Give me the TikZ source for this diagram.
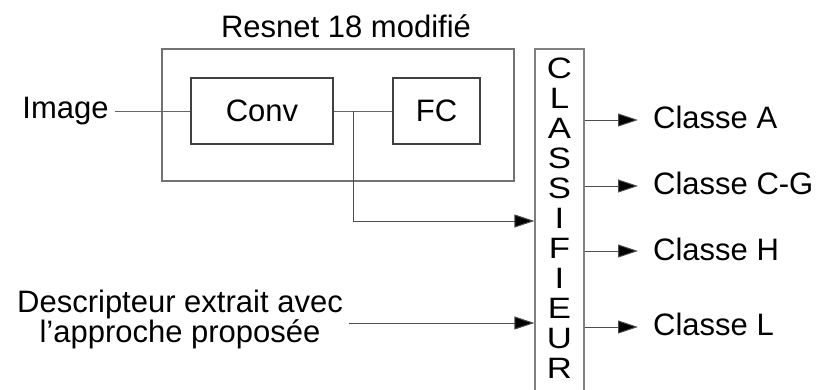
\documentclass[tikz,border=0pt]{standalone}
\usepackage{fontspec}
\setmainfont{Liberation Sans}
\usetikzlibrary{arrows.meta,positioning,calc}
\tikzset{
  netbox/.style={rectangle, draw=black!55, line width=1.1pt, inner sep=0pt},
  layerbox/.style={rectangle, draw=black!75, line width=1.1pt, inner sep=0pt, minimum height=66pt},
  plaintext/.style={inner sep=0pt},
  letter/.style={inner sep=0pt, anchor=base},
  outlabel/.style={inner sep=0pt, anchor=base west},
  link/.style={draw=black!60, line width=1pt},
  flowarrow/.style={draw=black!70, line width=1pt, -{Triangle[length=20pt, width=13pt, fill=black]}}
}
\begin{document}
\begin{tikzpicture}[x=1pt, y=-1pt, font=\fontsize{31}{25}\selectfont]
\useasboundingbox (0,0) rectangle (819,389);
% reseau
\node[netbox, minimum width=352pt, minimum height=132pt] (resnet) at (338,115) {};
\node[plaintext, anchor=base] (title) at (346,37) {Resnet 18 modifié};
\node[layerbox, minimum width=142pt] (conv) at (262,111) {Conv};
\node[layerbox, minimum width=87pt] (fc) at (436.5,111) {FC};
% classifieur
\node[netbox, draw=black!50, minimum width=49pt, minimum height=351pt] (clf) at (559.5,224.5) {};
\foreach \ltr [count=\i from 0] in {C,L,A,S,S,I,F,I,E,U,R}
  \node[letter] (clf-\i) at (559.5,78+30*\i) {\scalebox{1.12}[0.95]{\ltr}};
% entrees
\node[plaintext, anchor=base] (img) at (65.5,118) {Image};
\node[plaintext, align=center] (desc) at (180,319.5) {Descripteur extrait avec\\l’approche proposée};
% sorties
\node[outlabel] (clsA) at (653,128) {Classe A};
\node[outlabel] (clsCG) at (653,194) {Classe C-G};
\node[outlabel] (clsH) at (653,260) {Classe H};
\node[outlabel] (clsL) at (653,335) {Classe L};
\coordinate (branch) at (353,111);
\coordinate (imgout) at ($(img.east |- conv.west)+(6,0)$);
\coordinate (descout) at ($(desc.east |- 0,323)+(6,0)$);
\draw[link] (imgout) -- (conv.west);
\draw[link] (conv) -- (fc);
\draw[flowarrow] (branch) |- (clf.west |- 0,221);
\draw[flowarrow] (descout) -- (clf.west |- descout);
\draw[flowarrow, shorten >=15pt] (clf.east |- 0,120) -- (clsA.west |- 0,120);
\draw[flowarrow, shorten >=15pt] (clf.east |- 0,186) -- (clsCG.west |- 0,186);
\draw[flowarrow, shorten >=15pt] (clf.east |- 0,251) -- (clsH.west |- 0,251);
\draw[flowarrow, shorten >=15pt] (clf.east |- 0,327) -- (clsL.west |- 0,327);
\end{tikzpicture}
\end{document}
